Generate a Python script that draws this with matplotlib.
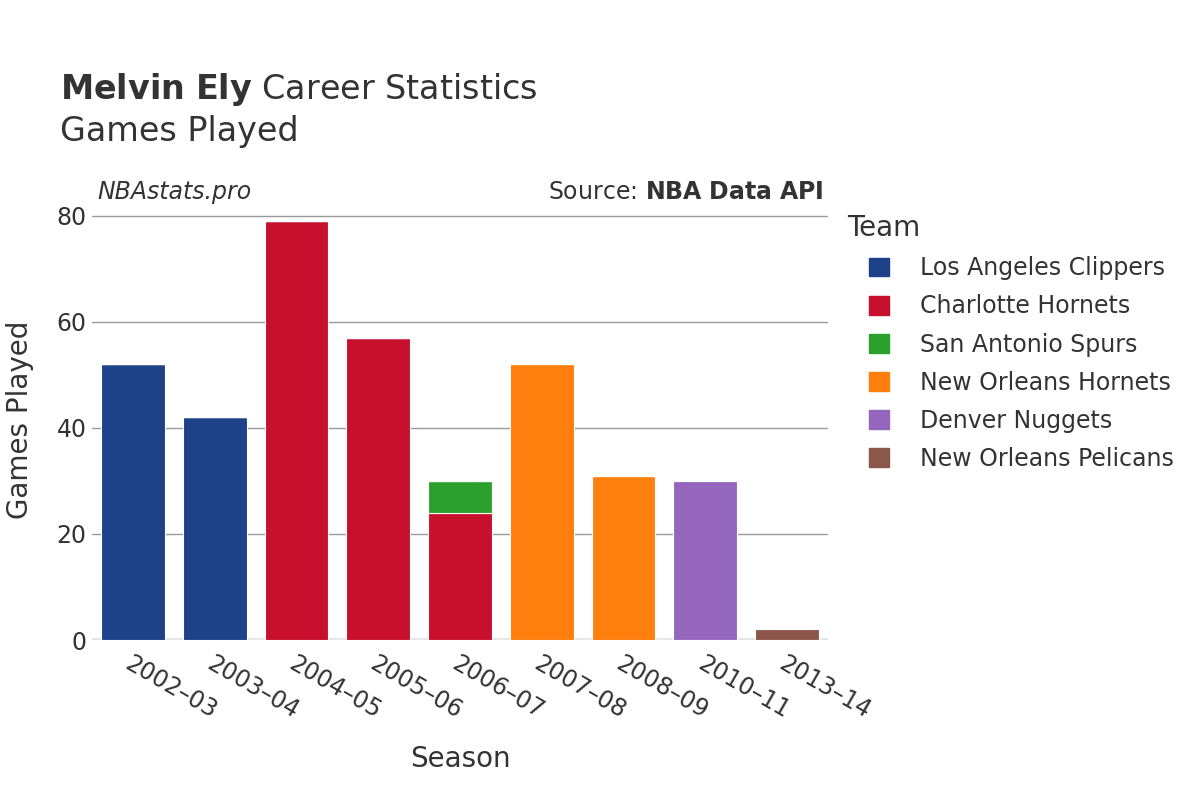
import matplotlib
matplotlib.use("Agg")
import matplotlib.pyplot as plt
from matplotlib.patches import Patch
from matplotlib.offsetbox import HPacker, DrawingArea

seasons = ["2002–03", "2003–04", "2004–05", "2005–06", "2006–07",
           "2007–08", "2008–09", "2010–11", "2013–14"]
teams = ["Los Angeles Clippers", "Charlotte Hornets", "San Antonio Spurs",
         "New Orleans Hornets", "Denver Nuggets", "New Orleans Pelicans"]
colors = ["#1d428a", "#c8102e", "#2ca02c", "#ff7f0e", "#9467bd", "#8c564b"]
games = {
    "Los Angeles Clippers": [52, 42, 0, 0, 0, 0, 0, 0, 0],
    "Charlotte Hornets":    [0, 0, 79, 57, 24, 0, 0, 0, 0],
    "San Antonio Spurs":    [0, 0, 0, 0, 6, 0, 0, 0, 0],
    "New Orleans Hornets":  [0, 0, 0, 0, 0, 52, 31, 0, 0],
    "Denver Nuggets":       [0, 0, 0, 0, 0, 0, 0, 30, 0],
    "New Orleans Pelicans": [0, 0, 0, 0, 0, 0, 0, 0, 2],
}
yticks = [0, 20, 40, 60, 80]

plt.rcParams['font.family'] = ['DejaVu Sans']
txt = "#333333"

fig = plt.figure(figsize=(12, 8), dpi=100)
ax = fig.add_axes([92/1200, 160/800, (828-92)/1200, (640-199)/800])

x = list(range(len(seasons)))
bottom = [0]*len(seasons)
for team, col in zip(teams, colors):
    vals = games[team]
    ax.bar(x, vals, width=0.78, bottom=bottom, color=col,
           edgecolor="white", linewidth=0.8, zorder=3)
    bottom = [b + v for b, v in zip(bottom, vals)]

ax.set_xlim(-0.5, len(seasons) - 0.5)
ax.set_ylim(0, 83.2)
ax.set_yticks(yticks)
ax.set_yticklabels([str(v) for v in yticks], fontsize=17, color=txt)
ax.set_xticks(x)
ax.set_xticklabels(seasons, rotation=-30, ha="left", rotation_mode="anchor",
                   fontsize=17, color=txt)
ax.tick_params(axis="both", length=0)
ax.tick_params(axis="x", pad=8)
ax.tick_params(axis="y", pad=4)
for s in ax.spines.values():
    s.set_visible(False)
ax.grid(axis="y", color="#999999", linewidth=1, zorder=0)
ax.axhline(0, color="#e6e6e6", linewidth=3, zorder=2)

ax.set_xlabel("Season", fontsize=20, color=txt, labelpad=16)
ax.set_ylabel("Games Played", fontsize=20, color=txt, labelpad=16)

fig.text(60/1200, 1-89/800, r"$\bf{Melvin\ Ely}$ Career Statistics",
         fontsize=24, color=txt, va="center")
fig.text(60/1200, 1-132/800, "Games Played", fontsize=24, color=txt, va="center")
fig.text(97/1200, 1-192/800, "NBAstats.pro", fontsize=17, color=txt,
         style="italic", va="center")
fig.text(824/1200, 1-192/800, r"Source: $\bf{NBA\ Data\ API}$", fontsize=17,
         color=txt, va="center", ha="right")

handles = [Patch(facecolor=c, edgecolor=c, label=t) for t, c in zip(teams, colors)]
leg = fig.legend(handles=handles, title="Team", loc="upper left",
                 bbox_to_anchor=(840/1200, 1-207/800), frameon=False,
                 fontsize=17, title_fontsize=20, handlelength=0.85,
                 handleheight=0.85, handletextpad=1.3, labelspacing=0.6,
                 borderpad=0.3, borderaxespad=0)
leg._legend_box.align = "left"
for t in leg.get_texts():
    t.set_color(txt)
leg.get_title().set_color(txt)
# indent legend entries relative to the title
box = leg._legend_box
title_box, entries = box.get_children()[0], box.get_children()[1]
box._children = [title_box,
                 HPacker(pad=0, sep=16, children=[DrawingArea(0, 0), entries],
                         align="center")]

fig.savefig("out.png", dpi=100, facecolor="white")
